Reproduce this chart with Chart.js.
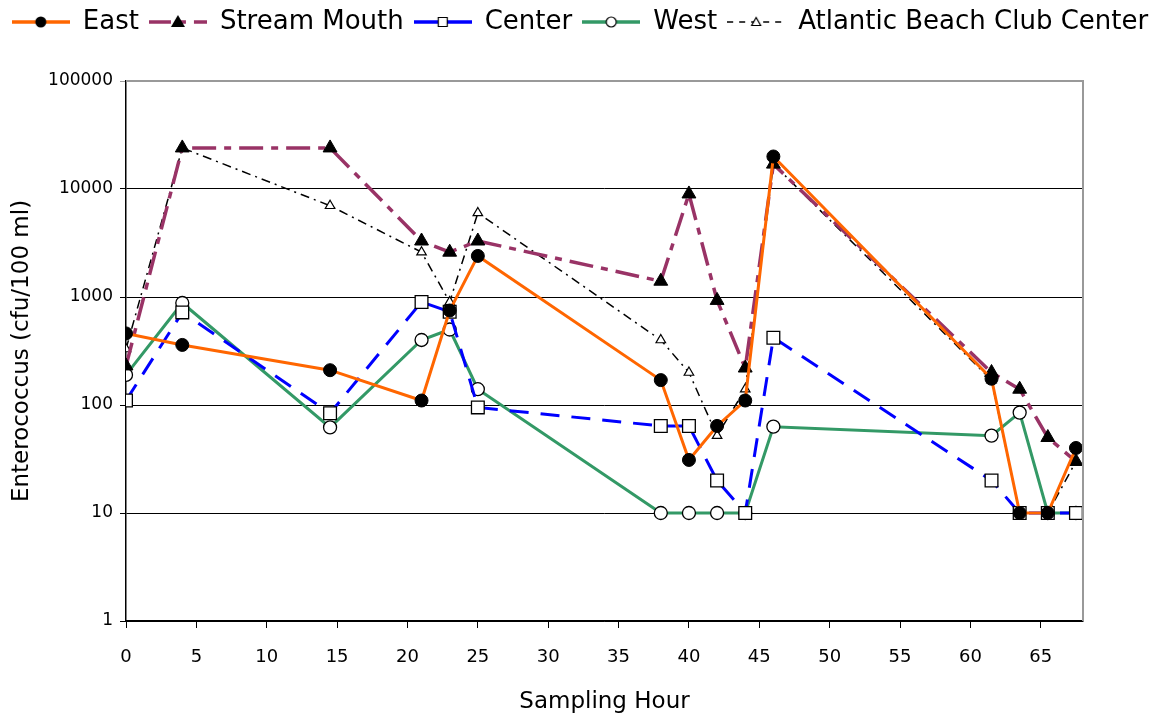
<!DOCTYPE html>
<html>
<head>
<meta charset="utf-8">
<script src="https://cdn.jsdelivr.net/npm/chart.js@4/dist/chart.umd.min.js"></script>
<style>
  html, body { margin: 0; padding: 0; background: #fff; }
  #wrap { width: 1160px; height: 719px; }
</style>
</head>
<body>
<div id="wrap"><canvas id="myChart" width="1160" height="719"></canvas></div>
<script>
// sampling hours and enterococcus counts (cfu/100 ml) per station
const hours = [0, 4, 14.5, 21, 23, 25, 38, 40, 42, 44, 46, 61.5, 63.5, 65.5, 67.5];
const east = [460, 360, 210, 110, 750, 2400, 170, 31, 64, 110, 20000, 175, 10, 10, 40];
const streamMouth = [230, 24000, 24000, 3300, 2600, 3300, 1400, 9000, 930, 220, 17000, 200, 140, 50, 30];
const center = [110, 720, 84, 900, 730, 95, 64, 64, 20, 10, 420, 20, 10, 10, 10];
const west = [190, 880, 62, 400, 500, 140, 10, 10, 10, 10, 63, 52, 85, 10, 10];
const abcCenter = [330, 24000, 7000, 2600, 900, 6000, 400, 200, 52, 140, 17000, 170, 10, 10, 30];

const xTicks = [0, 5, 10, 15, 20, 25, 30, 35, 40, 45, 50, 55, 60, 65];
const yTicks = [1, 10, 100, 1000, 10000, 100000];

const FONT = 'DejaVu Sans';

function pts(values) {
    return values.map((v, i) => ({ x: hours[i], y: v }));
}

// little line+marker pictures for the legend
function legendIcon(color, width, dash, marker) {
    const c = document.createElement('canvas');
    c.width = 58;
    c.height = 20;
    const g = c.getContext('2d');
    g.strokeStyle = color;
    g.lineWidth = width;
    g.setLineDash(dash);
    g.beginPath();
    g.moveTo(0, 10);
    g.lineTo(58, 10);
    g.stroke();
    g.setLineDash([]);
    g.lineWidth = 1.2;
    g.strokeStyle = '#000';
    g.beginPath();
    if (marker === 'dot') {
        g.fillStyle = '#000';
        g.arc(29, 10, 5.5, 0, Math.PI * 2);
        g.fill();
    } else if (marker === 'tri') {
        g.fillStyle = '#000';
        g.moveTo(29, 3); g.lineTo(36, 15); g.lineTo(22, 15); g.closePath();
        g.fill();
    } else if (marker === 'square') {
        g.fillStyle = '#fff';
        g.rect(24.5, 5.5, 9, 9);
        g.fill(); g.stroke();
    } else if (marker === 'ring') {
        g.fillStyle = '#fff';
        g.arc(29, 10, 5, 0, Math.PI * 2);
        g.fill(); g.stroke();
    } else if (marker === 'opentri') {
        g.fillStyle = '#fff';
        g.moveTo(29, 5.5); g.lineTo(33.5, 13.5); g.lineTo(24.5, 13.5); g.closePath();
        g.fill(); g.stroke();
    }
    return c;
}

const icons = [
    legendIcon('#FF6600', 3.5, [], 'dot'),
    legendIcon('#993366', 3.5, [22, 8, 7, 8], 'tri'),
    legendIcon('#0000FF', 3.5, [], 'square'),
    legendIcon('#339966', 3.5, [], 'ring'),
    legendIcon('#000', 1.5, [6, 6], 'opentri'),
];

// gray frame on the top and right of the plot
const plotFrame = {
    id: 'plotFrame',
    afterDatasetsDraw(chart) {
        const a = chart.chartArea;
        const g = chart.ctx;
        g.save();
        g.strokeStyle = '#999';
        g.lineWidth = 2;
        g.beginPath();
        g.moveTo(a.left, a.top);
        g.lineTo(a.right, a.top);
        g.lineTo(a.right, a.bottom);
        g.stroke();
        g.restore();
    }
};

const data = {
    datasets: [{
        label: 'East',
        data: pts(east),
        borderColor: '#FF6600',
        borderWidth: 3,
        pointStyle: 'circle',
        pointRadius: 6.5,
        pointBackgroundColor: '#000',
        pointBorderColor: '#000',
        pointBorderWidth: 1,
        order: 1,
    }, {
        label: 'Stream Mouth',
        data: pts(streamMouth),
        borderColor: '#993366',
        borderWidth: 3.5,
        borderDash: [24, 8, 7, 8],
        pointStyle: 'triangle',
        pointRadius: 8,
        pointBackgroundColor: '#000',
        pointBorderColor: '#000',
        pointBorderWidth: 1,
        order: 2,
    }, {
        label: 'Center',
        data: pts(center),
        borderColor: '#0000FF',
        borderWidth: 3,
        borderDash: [19, 12],
        pointStyle: 'rect',
        pointRadius: 9,
        pointBackgroundColor: '#fff',
        pointBorderColor: '#000',
        pointBorderWidth: 1.3,
        order: 3,
    }, {
        label: 'West',
        data: pts(west),
        borderColor: '#339966',
        borderWidth: 3,
        pointStyle: 'circle',
        pointRadius: 6.5,
        pointBackgroundColor: '#fff',
        pointBorderColor: '#000',
        pointBorderWidth: 1.3,
        order: 4,
    }, {
        label: 'Atlantic Beach Club Center',
        data: pts(abcCenter),
        borderColor: '#000',
        borderWidth: 1.5,
        borderDash: [9, 5, 2, 5],
        pointStyle: 'triangle',
        pointRadius: 5.5,
        pointBackgroundColor: '#fff',
        pointBorderColor: '#000',
        pointBorderWidth: 1.2,
        order: 5,
    }]
};

const config = {
    type: 'line',
    data: data,
    plugins: [plotFrame],
    options: {
        responsive: false,
        animation: false,
        devicePixelRatio: 1,
        layout: { padding: { top: -1, right: 0, bottom: 0, left: 0 } },
        elements: { line: { tension: 0, fill: false } },
        plugins: {
            tooltip: { enabled: false },
            // empty block that keeps a gap between legend and plot
            subtitle: {
                display: true,
                text: '',
                weight: 0,
                font: { size: 10 },
                padding: { top: 11, bottom: 13 },
            },
            legend: {
                position: 'top',
                labels: {
                    usePointStyle: true,
                    pointStyleWidth: 58,
                    padding: 10,
                    color: '#000',
                    font: { family: FONT, size: 26 },
                    generateLabels: (chart) => chart.data.datasets.map((ds, i) => ({
                        text: ds.label,
                        datasetIndex: i,
                        pointStyle: icons[i],
                        fillStyle: 'transparent',
                        strokeStyle: 'transparent',
                        lineWidth: 0,
                        fontColor: '#000',
                        hidden: false,
                    })),
                },
            },
        },
        scales: {
            x: {
                type: 'linear',
                min: 0,
                max: 68,
                afterBuildTicks: (s) => { s.ticks = xTicks.map(v => ({ value: v })); },
                afterFit: (s) => { s.height = 98; s.paddingRight = 77; },
                grid: { drawOnChartArea: false, drawTicks: true, tickLength: 7, color: '#000' },
                border: { color: '#000', width: 1.5 },
                ticks: {
                    color: '#000',
                    padding: 19,
                    maxRotation: 0,
                    font: { family: FONT, size: 18 },
                },
                title: {
                    display: true,
                    text: 'Sampling Hour',
                    color: '#000',
                    font: { family: FONT, size: 23 },
                    padding: { top: 0, bottom: 3 },
                },
            },
            y: {
                type: 'logarithmic',
                min: 1,
                max: 100000,
                afterBuildTicks: (s) => { s.ticks = yTicks.map(v => ({ value: v })); },
                afterFit: (s) => { s.width = 126; },
                grid: {
                    color: (c) => (c.tick && c.tick.value === 100000 ? '#999' : '#000'),
                    lineWidth: 1,
                    tickLength: 6,
                },
                border: { color: '#000', width: 1.5 },
                ticks: {
                    color: '#000',
                    padding: 7,
                    font: { family: FONT, size: 17 },
                    callback: (v) => String(v),
                },
                title: {
                    display: true,
                    text: 'Enterococcus (cfu/100 ml)',
                    color: '#000',
                    font: { family: FONT, size: 23 },
                    padding: { top: 8, bottom: 0 },
                },
            },
        },
    },
};

const myChart = new Chart(document.getElementById('myChart'), config);
</script>
</body>
</html>
